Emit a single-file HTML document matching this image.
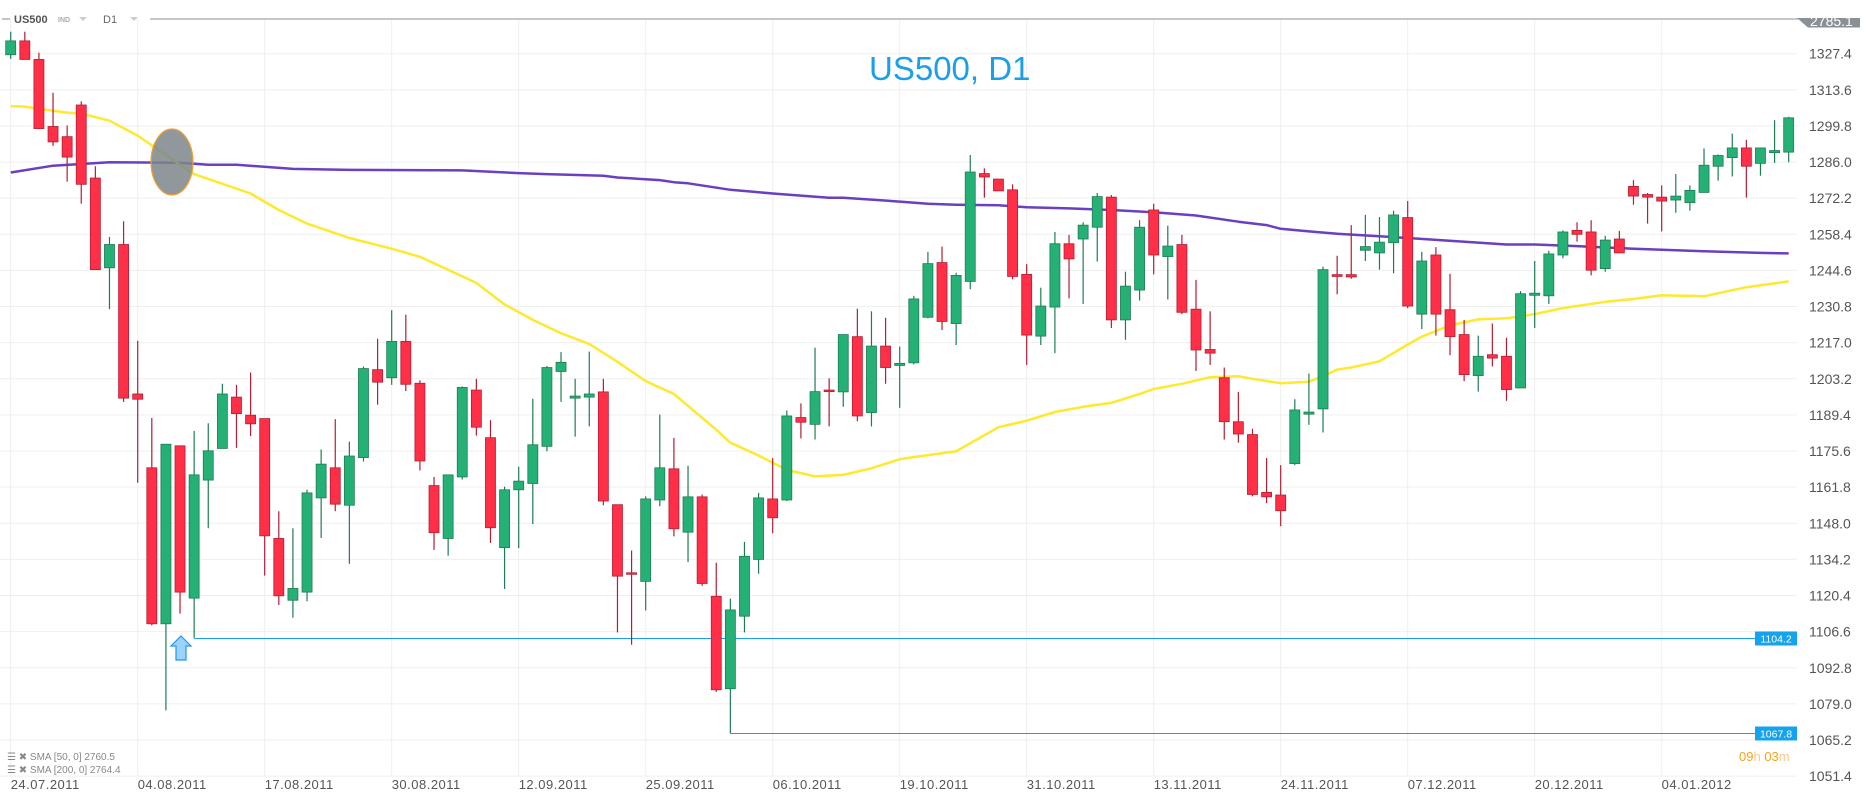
<!DOCTYPE html>
<html><head><meta charset="utf-8"><title>US500 D1</title>
<style>
html,body{margin:0;padding:0;background:#fff;}
svg{display:block;font-family:"Liberation Sans",sans-serif;}
</style></head>
<body>
<svg id="chart" width="1866" height="806" viewBox="0 0 1866 806" xmlns="http://www.w3.org/2000/svg">
  <defs><clipPath id="tagclip"><rect x="1790" y="18" width="76" height="12"/></clipPath></defs>
  <rect x="0" y="0" width="1866" height="806" fill="#ffffff"/>
  <g id="grid"></g>
  <g id="header">
    <line x1="2" y1="19" x2="10" y2="19" stroke="#888" stroke-width="1"/>
    <text x="14" y="23" font-size="11" font-weight="bold" fill="#555">US500</text>
    <text x="58" y="22" font-size="7" font-weight="bold" fill="#aaa">IND</text>
    <path d="M79 17 L87 17 L83 21 Z" fill="#ccc"/>
    <text x="103" y="23" font-size="11" fill="#666">D1</text>
    <path d="M130 17 L138 17 L134 21 Z" fill="#ccc"/>
    <line x1="150" y1="19" x2="1798" y2="19" stroke="#8c9296" stroke-width="1"/>
    <g clip-path="url(#tagclip)">
      <path d="M1797 18 L1860 18 L1860 27.5 L1808 27.5 Z" fill="#8a9196"/>
      <text x="1810" y="26" font-size="14" fill="#fff">2785.1</text>
    </g>
  </g>
  <text x="869" y="80" font-size="33" fill="#1a9fe8">US500, D1</text>
  <g id="levels"></g>
  <g id="smas"></g>
  <g id="candles"></g>
  <ellipse cx="172" cy="162" rx="21" ry="33" fill="#7e868b" fill-opacity="0.85" stroke="#f5a030" stroke-width="1.2"/>
  <path d="M181 636 L191 646 L186 646 L186 660 L176 660 L176 646 L171 646 Z" fill="#9bd4fa" stroke="#2196f3" stroke-width="1.2"/>
  <g id="axis"></g>
  <g id="xaxis"></g>
  <g font-size="10" fill="#888">
    <text x="7" y="760">☰ ✖ SMA [50,  0] 2760.5</text>
    <text x="7" y="773">☰ ✖ SMA [200,  0] 2764.4</text>
  </g>
  <text x="1739" y="761" font-size="13" fill="#f7a21b">09<tspan fill="#f9c98a">h</tspan> 03<tspan fill="#f9c98a">m</tspan></text>
</svg>
<script>
// ---- data ----
const opens  = [1327.0,1332.3,1325.2,1299.6,1295.7,1307.8,1279.9,1245.6,1254.5,1197.4,1169.2,1109.6,1177.6,1119.4,1164.5,1176.6,1196.2,1189.3,1188.0,1142.2,1118.6,1121.7,1157.7,1169.2,1154.9,1173.1,1206.7,1203.6,1217.5,1201.5,1162.4,1142.2,1165.7,1198.9,1180.7,1138.7,1160.8,1163.2,1177.4,1206.0,1195.8,1196.2,1198.2,1155.1,1129.1,1125.8,1156.9,1168.8,1144.6,1158.1,1120.1,1084.8,1112.5,1134.2,1157.3,1156.9,1188.4,1185.8,1198.9,1198.2,1219.3,1190.3,1215.7,1208.3,1209.3,1226.7,1247.6,1224.3,1240.4,1281.6,1279.5,1275.4,1243.1,1219.5,1230.6,1254.8,1256.6,1261.1,1272.6,1225.7,1237.1,1267.7,1249.9,1254.5,1229.8,1214.4,1203.6,1186.8,1181.9,1159.8,1158.8,1170.8,1189.7,1191.7,1243.0,1243.0,1252.3,1251.3,1255.2,1264.8,1227.9,1250.5,1229.6,1220.1,1204.4,1212.4,1211.8,1199.7,1235.1,1234.9,1250.5,1259.9,1259.3,1245.3,1256.6,1276.7,1273.6,1272.6,1271.5,1270.5,1274.4,1284.4,1287.7,1291.4,1285.5,1289.6,1289.8];
const highs  = [1335.8,1335.8,1327.8,1312.5,1300.0,1309.2,1284.4,1257.4,1263.4,1217.7,1188.2,1178.2,1177.6,1183.3,1186.2,1201.3,1200.9,1205.6,1188.0,1152.6,1146.1,1160.8,1176.2,1187.8,1179.2,1207.9,1218.5,1229.4,1227.7,1202.6,1165.7,1166.5,1200.3,1203.2,1187.4,1162.0,1169.6,1195.6,1208.1,1213.4,1203.2,1213.6,1203.2,1155.1,1137.6,1158.3,1189.5,1180.6,1170.0,1159.0,1132.9,1119.2,1140.9,1159.6,1172.9,1191.1,1193.8,1215.1,1203.4,1220.1,1230.0,1229.0,1226.5,1215.5,1234.9,1251.7,1253.7,1243.7,1288.7,1283.6,1279.5,1277.5,1247.0,1238.0,1259.3,1258.2,1263.0,1274.2,1273.4,1244.1,1263.8,1270.1,1261.7,1258.2,1241.0,1229.0,1207.5,1198.2,1184.1,1172.9,1170.2,1195.4,1205.2,1246.0,1250.2,1261.9,1265.8,1265.0,1267.4,1271.1,1251.7,1253.5,1243.3,1225.7,1219.7,1224.3,1218.9,1236.7,1248.2,1252.1,1259.9,1263.0,1263.8,1257.8,1259.7,1279.1,1274.2,1277.1,1281.4,1277.1,1291.2,1288.9,1296.9,1294.5,1291.4,1302.0,1303.3];
const lows   = [1325.4,1325.2,1298.8,1292.2,1278.5,1270.1,1244.9,1229.8,1194.4,1163.5,1109.0,1076.5,1113.5,1104.2,1146.1,1176.6,1176.8,1181.3,1128.0,1116.8,1111.9,1118.2,1142.4,1152.6,1132.5,1171.6,1193.3,1200.9,1198.5,1168.2,1137.8,1135.6,1164.7,1181.5,1140.5,1122.9,1138.5,1147.7,1175.5,1194.4,1181.1,1185.0,1154.9,1106.3,1101.6,1114.7,1154.5,1143.0,1133.2,1124.1,1083.6,1067.8,1106.3,1128.7,1144.2,1156.5,1180.4,1180.0,1185.0,1192.5,1187.0,1185.0,1201.3,1192.1,1208.7,1226.3,1221.8,1216.1,1237.4,1272.4,1275.0,1241.2,1208.5,1216.1,1213.0,1233.9,1231.8,1248.0,1222.6,1218.1,1233.1,1243.1,1233.5,1227.9,1206.2,1208.5,1180.0,1178.8,1158.3,1155.7,1146.9,1170.2,1185.6,1182.7,1235.5,1241.4,1248.2,1244.9,1243.5,1230.2,1222.2,1219.7,1212.2,1202.3,1198.3,1207.9,1194.8,1199.7,1222.6,1231.8,1249.2,1255.6,1242.7,1244.1,1251.3,1269.7,1262.5,1259.5,1266.6,1267.4,1274.4,1278.9,1280.5,1272.4,1280.8,1285.7,1285.9];
const closes = [1332.3,1325.2,1298.8,1293.7,1287.9,1277.5,1244.9,1254.5,1195.8,1195.4,1109.6,1178.2,1121.7,1166.5,1175.7,1197.4,1189.9,1186.0,1143.2,1120.3,1123.1,1159.6,1170.6,1155.3,1173.7,1207.1,1201.9,1217.5,1201.1,1171.8,1144.4,1166.5,1199.9,1184.7,1146.3,1160.8,1164.1,1178.0,1207.5,1209.5,1196.6,1197.4,1156.5,1127.8,1128.5,1157.3,1169.2,1145.9,1158.1,1125.0,1084.4,1114.9,1135.4,1157.7,1150.1,1189.0,1186.6,1198.3,1198.3,1220.1,1189.0,1215.7,1207.5,1209.1,1233.7,1247.2,1225.1,1242.7,1282.2,1280.3,1275.0,1242.3,1219.9,1231.0,1254.8,1249.0,1261.9,1272.8,1225.7,1238.6,1261.1,1250.5,1253.9,1228.6,1214.2,1213.0,1186.8,1182.1,1159.0,1158.1,1152.8,1191.3,1190.5,1244.9,1242.3,1242.1,1253.7,1255.4,1265.8,1231.0,1248.2,1227.9,1219.3,1204.8,1211.8,1211.1,1199.1,1235.7,1235.9,1250.9,1259.3,1258.4,1244.7,1256.2,1251.3,1273.0,1272.6,1271.1,1273.0,1275.2,1284.8,1288.5,1291.4,1284.4,1291.4,1290.4,1302.9];
const sma50Idx = [0,1,2,4,5,7,9,12,13,17,19,21,24,27,29,32,33,35,37,39,41,43,45,47,48,50,51,53,55,57,59,61,63,64,67,70,72,74,76,78,80,81,83,85,87,88,90,92,93,94,95,97,99,100,102,104,106,108,110,113,115,117,120,123,126];
const sma50Val = [1307.4,1307.2,1306.3,1304.9,1304.5,1301.8,1296.1,1285.0,1281.4,1274.0,1267.7,1262.5,1257.0,1252.9,1249.8,1242.3,1239.8,1231.6,1225.7,1220.6,1216.5,1209.7,1202.3,1197.4,1192.9,1183.7,1178.8,1173.9,1168.4,1165.9,1166.5,1169.0,1172.5,1173.3,1175.5,1184.7,1187.2,1190.5,1192.5,1194.0,1197.4,1199.3,1201.3,1203.8,1204.2,1203.2,1201.5,1202.1,1204.2,1206.7,1207.5,1209.9,1216.3,1219.3,1223.6,1225.9,1226.3,1227.9,1230.2,1232.6,1233.7,1235.1,1234.7,1238.2,1240.4];
const sma200Idx = [0,3,7,12,14,16,20,24,32,36,38,42,43,46,47,48,51,54,58,59,63,65,67,70,72,75,78,81,84,87,89,90,92,94,99,106,108,111,115,117,120,124,126];
const sma200Val = [1282.0,1284.6,1285.9,1285.7,1285.0,1285.0,1283.4,1283.0,1282.8,1281.8,1281.4,1280.8,1280.1,1279.1,1278.3,1277.9,1275.4,1274.0,1272.4,1272.4,1270.9,1270.1,1269.7,1269.5,1268.7,1268.3,1267.7,1266.8,1265.6,1263.2,1261.9,1260.5,1259.5,1258.6,1257.0,1254.5,1254.5,1253.9,1252.9,1252.5,1251.9,1251.3,1251.1];
const priceTicks = ["1327.4","1313.6","1299.8","1286.0","1272.2","1258.4","1244.6","1230.8","1217.0","1203.2","1189.4","1175.6","1161.8","1148.0","1134.2","1120.4","1106.6","1092.8","1079.0","1065.2","1051.4"];
const dateLabels = ["24.07.2011","04.08.2011","17.08.2011","30.08.2011","12.09.2011","25.09.2011","06.10.2011","19.10.2011","31.10.2011","13.11.2011","24.11.2011","07.12.2011","20.12.2011","04.01.2012"];
const levelPrices = [1104.2, 1067.8];
const levelStartIdx = [13, 51];

// ---- scales ----
const NS = "http://www.w3.org/2000/svg";
const PLOT_TOP = 19, PLOT_BOTTOM = 776, PLOT_RIGHT = 1797;
function yScale(p){ return 53.7 + (1327.4 - p) * 2.6175; }
function xScale(i){ return 10.7 + i * 14.111; }
function mk(tag, attrs, parent){
  const el = document.createElementNS(NS, tag);
  for (const k in attrs) el.setAttribute(k, attrs[k]);
  parent.appendChild(el);
  return el;
}

// grid + axis
const grid = document.getElementById('grid');
const axis = document.getElementById('axis');
priceTicks.forEach(t => {
  const y = yScale(parseFloat(t));
  const l = mk('line', {x1:0, x2:PLOT_RIGHT, y1:y, y2:y, stroke:'#efefef', 'stroke-width':1}, grid);
  
  
  const tx = mk('text', {x:1809, y:y+5, 'font-size':14, fill:'#555'}, axis);
  
  
  tx.textContent = t;
});
const xaxis = document.getElementById('xaxis');
dateLabels.forEach((d, k) => {
  const x = xScale(k * 9);
  const l = mk('line', {x1:x, x2:x, y1:PLOT_TOP, y2:PLOT_BOTTOM, stroke:'#efefef', 'stroke-width':1}, grid);
  
  
  const tx = mk('text', {x:x, y:789, 'font-size':13, fill:'#555', 'letter-spacing':'0.5'}, xaxis);
  
  
  tx.textContent = d;
});

// levels
const levels = document.getElementById('levels');
levelPrices.forEach((p, k) => {
  const y = Math.round(yScale(p)) + 0.5;
  const l = mk('line', {x1:xScale(levelStartIdx[k]), x2:PLOT_RIGHT, y1:y, y2:y, stroke:'#1a9fe8', 'stroke-width':1}, levels);
  
  
  const r = mk('rect', {x:1755, y:y-7, width:42, height:14, fill:'#14a3ec'}, levels);
  
  
  const tx = mk('text', {x:1776, y:y+4, 'font-size':10.5, fill:'#fff', 'text-anchor':'middle'}, levels);
  
  
  tx.textContent = p.toFixed(1);
});

// SMAs
const smas = document.getElementById('smas');
function linePath(idx, vals){
  return idx.map((i, k) => (k ? 'L' : 'M') + xScale(i).toFixed(1) + ' ' + yScale(vals[k]).toFixed(1)).join(' ');
}
const s200 = mk('path', {d:linePath(sma200Idx, sma200Val), fill:'none', stroke:'#6a3fc0', 'stroke-width':2.5, 'stroke-linejoin':'round'}, smas);


const s50 = mk('path', {d:linePath(sma50Idx, sma50Val), fill:'none', stroke:'#fde92e', 'stroke-width':2.5, 'stroke-linejoin':'round'}, smas);



// candles
const cg = document.getElementById('candles');
for (let i = 0; i < opens.length; i++) {
  const up = closes[i] >= opens[i];
  const x = xScale(i);
  const wickCol = up ? '#1d7d52' : '#b51d33';
  const fill = up ? '#25b176' : '#fe2f47';
  const w = mk('line', {x1:x, x2:x, y1:yScale(highs[i]), y2:yScale(lows[i]), stroke:wickCol, 'stroke-width':1.2}, cg);
  
  
  const top = yScale(Math.max(opens[i], closes[i]));
  const bot = yScale(Math.min(opens[i], closes[i]));
  const b = mk('rect', {x:x-5, y:top, width:10, height:Math.max(bot-top, 1.5), fill:fill, stroke:wickCol, 'stroke-width':0.8}, cg);
  
  
}
</script>
</body></html>
